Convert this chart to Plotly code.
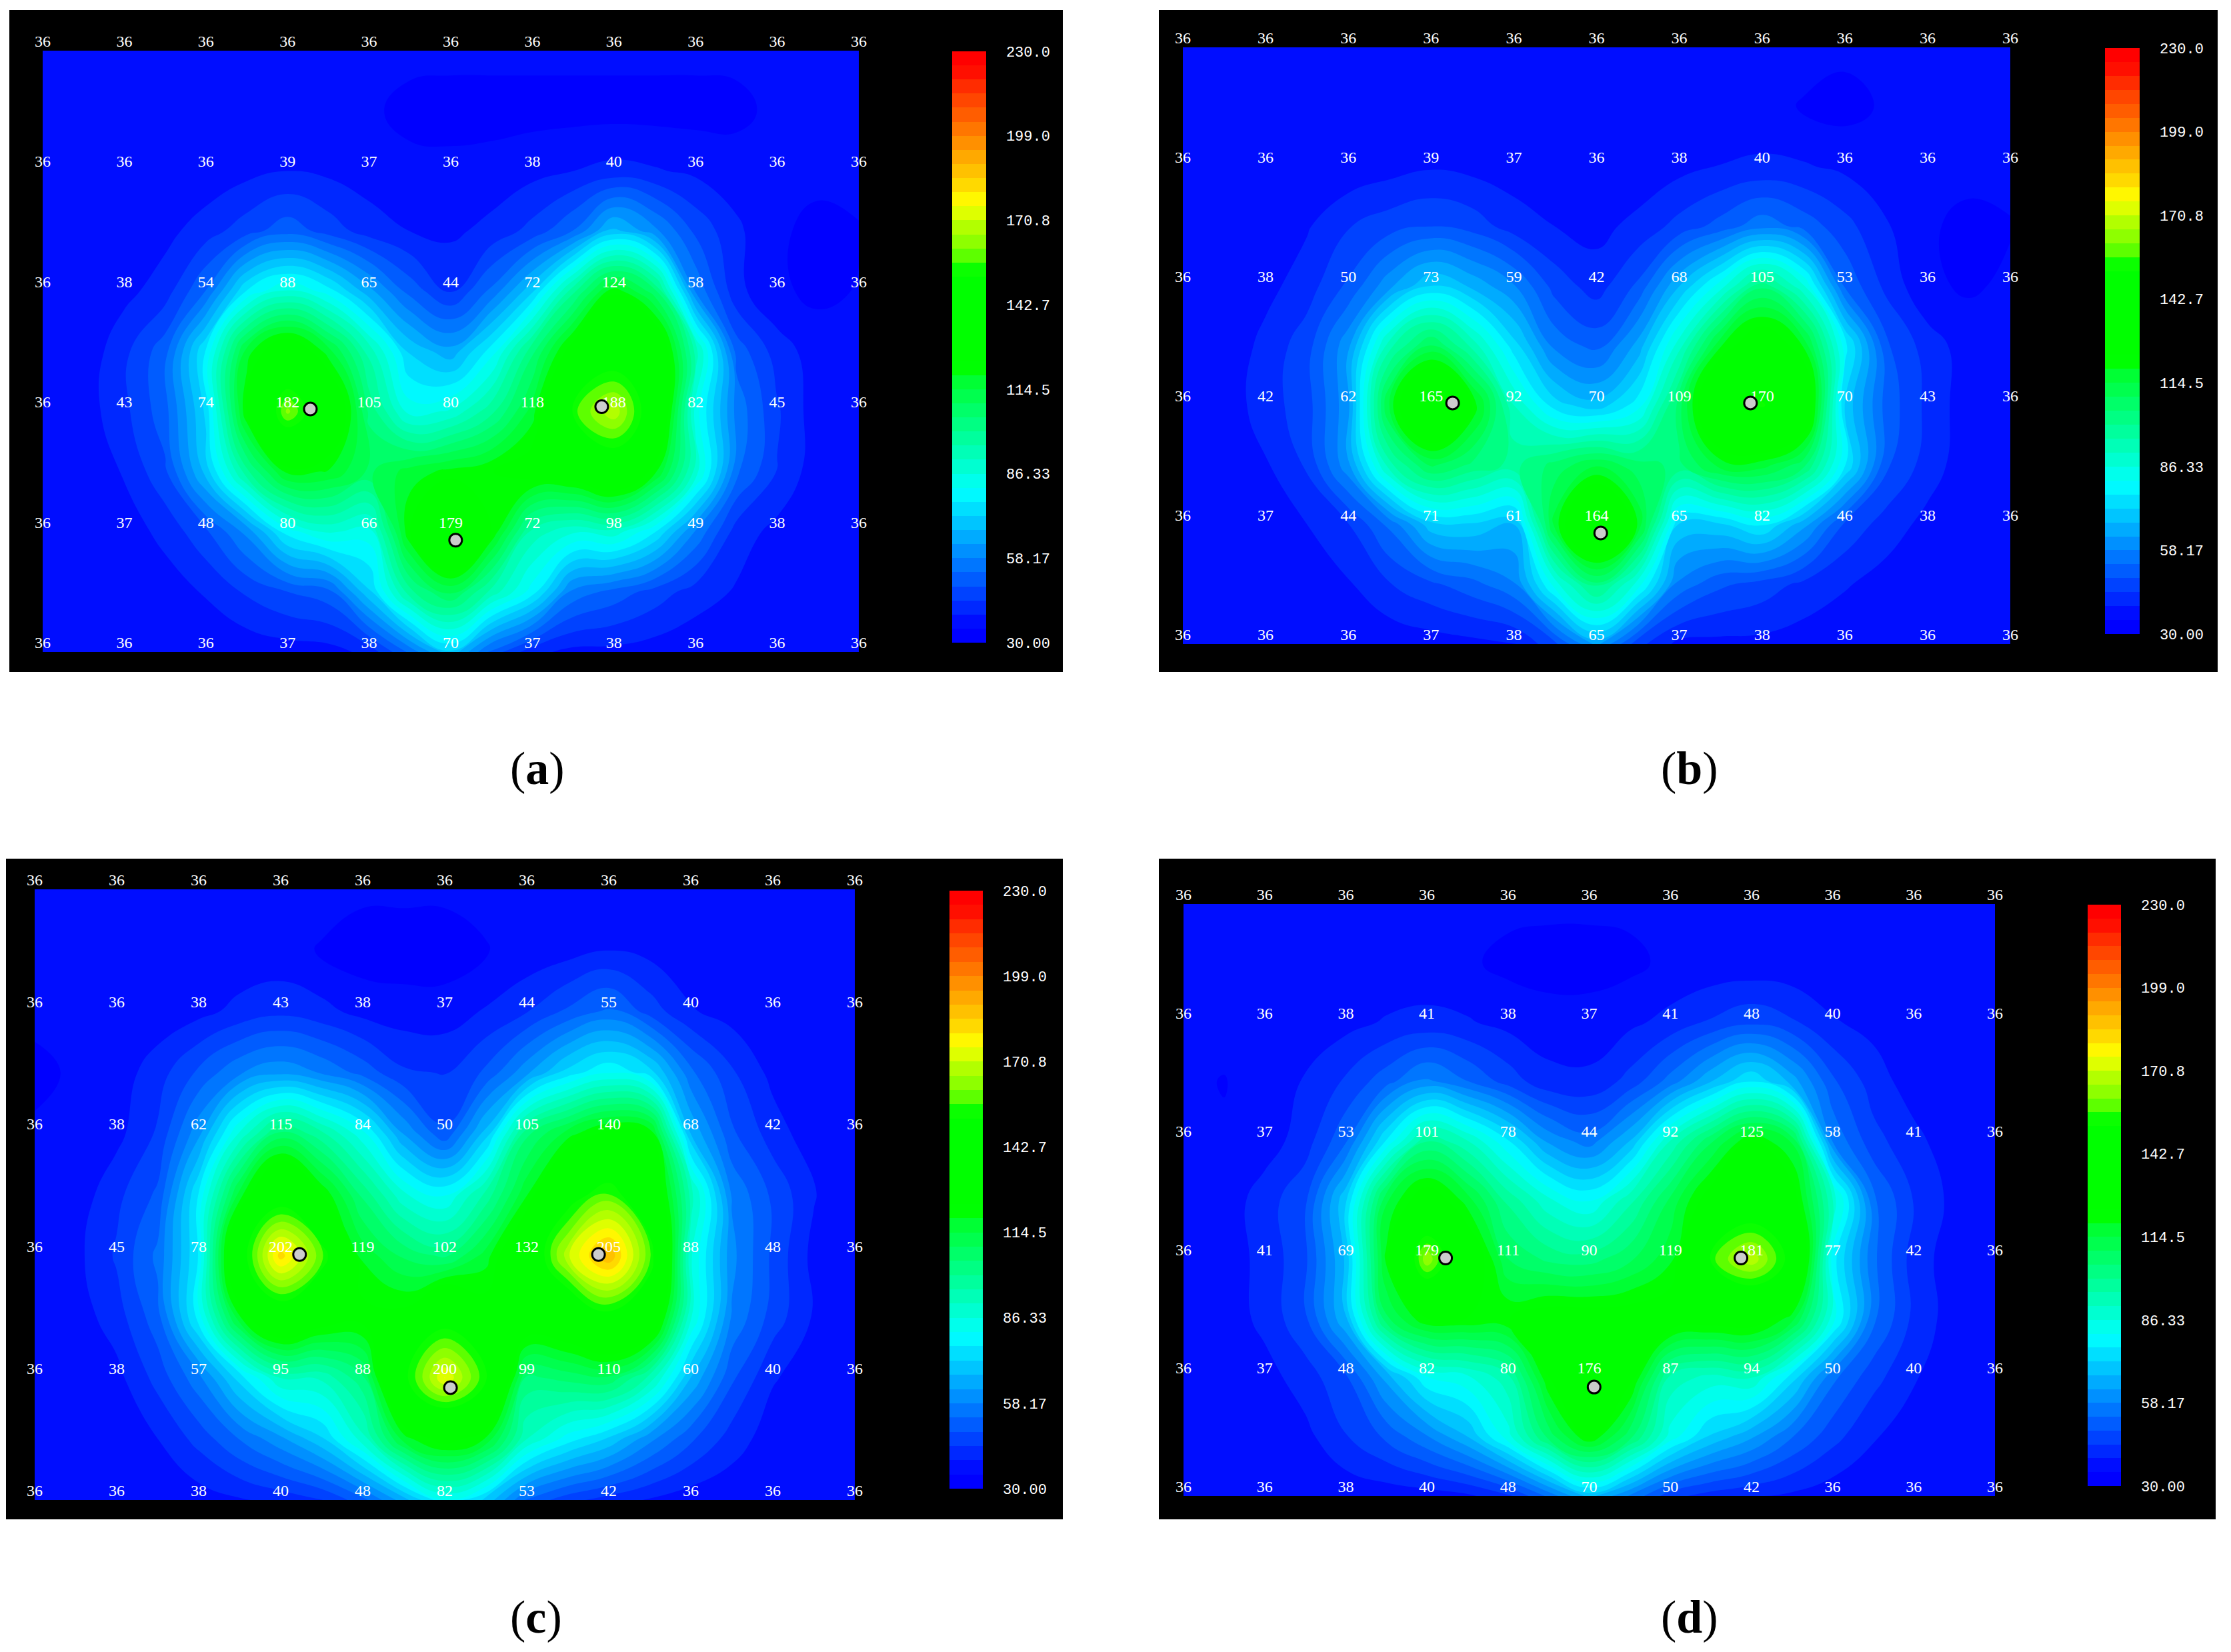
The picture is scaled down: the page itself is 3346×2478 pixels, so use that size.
#!/usr/bin/env python
import plotly.graph_objects as go

W = 3346
H = 2478

# printed temperatures, rows top to bottom
labels_a = [
    [36, 36, 36, 36, 36, 36, 36, 36, 36, 36, 36],
    [36, 36, 36, 39, 37, 36, 38, 40, 36, 36, 36],
    [36, 38, 54, 88, 65, 44, 72, 124, 58, 36, 36],
    [36, 43, 74, 182, 105, 80, 118, 188, 82, 45, 36],
    [36, 37, 48, 80, 66, 179, 72, 98, 49, 38, 36],
    [36, 36, 36, 37, 38, 70, 37, 38, 36, 36, 36],
]
labels_b = [
    [36, 36, 36, 36, 36, 36, 36, 36, 36, 36, 36],
    [36, 36, 36, 39, 37, 36, 38, 40, 36, 36, 36],
    [36, 38, 50, 73, 59, 42, 68, 105, 53, 36, 36],
    [36, 42, 62, 165, 92, 70, 109, 170, 70, 43, 36],
    [36, 37, 44, 71, 61, 164, 65, 82, 46, 38, 36],
    [36, 36, 36, 37, 38, 65, 37, 38, 36, 36, 36],
]
labels_c = [
    [36, 36, 36, 36, 36, 36, 36, 36, 36, 36, 36],
    [36, 36, 38, 43, 38, 37, 44, 55, 40, 36, 36],
    [36, 38, 62, 115, 84, 50, 105, 140, 68, 42, 36],
    [36, 45, 78, 202, 119, 102, 132, 205, 88, 48, 36],
    [36, 38, 57, 95, 88, 200, 99, 110, 60, 40, 36],
    [36, 36, 38, 40, 48, 82, 53, 42, 36, 36, 36],
]
labels_d = [
    [36, 36, 36, 36, 36, 36, 36, 36, 36, 36, 36],
    [36, 36, 38, 41, 38, 37, 41, 48, 40, 36, 36],
    [36, 37, 53, 101, 78, 44, 92, 125, 58, 41, 36],
    [36, 41, 69, 179, 111, 90, 119, 181, 77, 42, 36],
    [36, 37, 48, 82, 80, 176, 87, 94, 50, 40, 36],
    [36, 36, 38, 40, 48, 70, 50, 42, 36, 36, 36],
]

field_a = [
    [36] * 21,
    [36, 36, 36, 36, 36, 36, 36, 36, 35.5, 33.5, 33, 33, 33, 33, 33, 33, 33, 33.5, 36, 36, 36],
    [36, 36, 36, 36, 36, 38, 39.5, 38.5, 37, 36, 36, 36.5, 38, 39.5, 41, 40, 38.5, 37, 36, 36, 36],
    [36, 36, 36.5, 38, 42, 47, 52, 47, 42, 39.5, 38.5, 41, 46, 54, 70, 60, 48, 40.5, 35.5, 33.5, 34.5],
    [36, 36, 38, 42, 54, 78, 88, 80, 65, 52, 44, 55, 72, 100, 124, 108, 58, 41, 35.5, 33.8, 35],
    [36, 36, 43, 52, 78, 118, 135, 118, 95, 72, 65, 80, 105, 130, 145, 140, 95, 52, 42, 37, 36],
    [36, 37, 43, 52, 74, 125, 165, 140, 105, 85, 88, 100, 118, 157, 172, 145, 85, 57, 45, 36.5, 36],
    [36, 36, 40, 48, 70, 100, 122, 120, 110, 118, 122, 125, 130, 132, 142, 122, 90, 55, 44, 36.5, 36],
    [36, 36, 37, 41, 48, 60, 80, 88, 85, 125, 150, 125, 95, 88, 90, 78, 58, 42, 38, 36, 36],
    [36, 36, 36, 37, 40, 45, 49, 52, 72, 100, 112, 95, 80, 57, 52, 47, 42, 39, 36, 36, 36],
    [36, 36, 36, 36, 36, 36, 37, 37.5, 41, 55, 72, 52, 41, 38, 38, 37, 36, 36, 36, 36, 36],
]
field_b = [
    [36] * 21,
    [36, 36, 36, 36, 36, 36, 36, 36, 36, 36, 36, 36, 36, 36, 36, 34.5, 33, 35.5, 36, 36, 36],
    [36, 36, 36, 36, 36, 37.5, 39, 38, 37, 36, 36, 36, 38, 39.7, 40.5, 40, 38.5, 37, 36, 36, 36],
    [36, 36, 36, 39, 44, 47, 49, 47, 42, 39.5, 38, 41, 46, 51, 57, 52, 46, 40, 35.3, 33.7, 34.5],
    [36, 36, 38, 42, 50, 62, 73, 67, 59, 47, 42, 50, 68, 85, 105, 88, 53, 43, 35.5, 34.2, 35.5],
    [36, 36, 41, 47, 62, 95, 112, 95, 75, 57, 52, 65, 90, 120, 135, 120, 80, 50, 42, 37, 36],
    [36, 36.5, 42, 47, 62, 118, 148, 125, 92, 75, 70, 80, 109, 145, 155, 140, 72, 52, 43, 36.5, 36],
    [36, 36, 39, 45, 62, 95, 112, 105, 100, 108, 115, 108, 105, 118, 118, 108, 78, 50, 42, 36.5, 36],
    [36, 36, 36.5, 39.5, 44, 55, 71, 72, 68, 118, 148, 120, 72, 72, 78, 65, 48, 42, 38, 36.5, 36],
    [36, 36, 36, 36.5, 39, 44, 48, 52, 58, 85, 105, 85, 57, 50, 47, 43, 40, 37.5, 36, 36, 36],
    [36, 36, 36, 36, 36, 36, 37, 38, 39, 48, 65, 46, 38, 38, 38, 37, 36, 36, 36, 36, 36],
]
field_c = [
    [36] * 21,
    [36, 36, 36, 36, 36, 36, 36, 34.5, 32, 32, 32, 34.5, 36, 37.5, 39.5, 38, 36.5, 36, 36, 36, 36],
    [36, 36, 36, 36.5, 38, 41, 43, 41, 38, 37, 37, 40, 44, 50, 55, 47, 40, 37.5, 36, 36, 36],
    [33.5, 35.5, 37, 42, 50, 58, 62, 58, 52, 45, 44, 50, 62, 75, 82, 75, 55, 45, 38, 36, 35],
    [35.5, 36.5, 38, 45, 62, 88, 108, 98, 84, 63, 50, 70, 105, 118, 128, 125, 68, 50, 42, 36.5, 36],
    [36, 36.5, 43, 50, 78, 118, 146, 125, 105, 88, 82, 98, 120, 148, 160, 140, 95, 58, 48, 40, 36],
    [36, 38, 45, 55, 78, 147, 185, 160, 119, 110, 105, 118, 140, 172, 192, 160, 88, 60, 48, 38, 36],
    [36, 37, 42, 52, 80, 120, 143, 132, 128, 128, 148, 130, 135, 138, 150, 140, 88, 58, 47, 39, 36],
    [36, 36.5, 38, 46, 57, 75, 92, 93, 105, 151, 178, 155, 105, 108, 110, 95, 68, 50, 40, 37, 36],
    [36, 36, 36.5, 39.5, 46, 54, 62, 72, 90, 118, 129, 120, 92, 80, 72, 60, 50, 42, 37, 36, 36],
    [36, 36, 36, 36, 37, 39, 41, 44, 52, 66, 82, 72, 53, 46, 42, 39, 36.5, 36, 36, 36, 36],
]
field_d = [
    [36] * 21,
    [36, 36, 36, 36, 36, 36, 36, 35.5, 33.5, 32.5, 32.5, 33.5, 36, 36, 36, 36, 36, 36, 36, 36, 36],
    [36, 36, 36, 36.5, 38, 40, 41, 40, 38, 37, 37, 38.5, 41, 45, 48, 45, 40, 38, 36, 36, 36],
    [35.5, 34.6, 36.5, 40, 45, 52, 60, 54, 47, 41, 40.5, 46, 56, 68, 78, 66, 50, 42, 37, 36, 36],
    [36, 35.2, 37, 42, 53, 78, 101, 92, 78, 62, 56, 68, 92, 110, 125, 115, 58, 46, 41, 36.5, 36],
    [36, 36.5, 42, 48, 72, 115, 132, 118, 100, 88, 82, 95, 112, 130, 142, 130, 92, 55, 44, 38, 36],
    [36, 37, 41, 48, 69, 122, 168, 135, 111, 105, 104, 110, 119, 157, 172, 150, 80, 55, 42, 37, 36],
    [35.5, 36.5, 41, 48, 68, 110, 125, 125, 125, 130, 130, 130, 132, 130, 131, 118, 85, 55, 43, 37, 36],
    [36, 36.5, 37.5, 42, 48, 65, 82, 86, 95, 125, 148, 128, 95, 90, 92, 75, 55, 46, 40, 36.5, 36],
    [36, 36, 36, 38, 44, 50, 58, 68, 85, 108, 125, 108, 85, 72, 64, 54, 46, 40, 36.5, 36, 36],
    [36, 36, 36, 36, 36, 36.5, 37, 38.5, 43, 55, 70, 58, 46, 42, 40, 38.5, 36.5, 36, 36, 36, 36],
]

# sensor dots in grid units (column, row)
sensors_a = [(3.28, 2.98), (6.85, 2.96), (5.06, 4.07)]
sensors_b = [(3.26, 2.98), (6.86, 2.98), (5.05, 4.07)]
sensors_c = [(3.23, 2.99), (6.875, 2.99), (5.07, 4.08)]
sensors_d = [(3.23, 2.99), (6.87, 2.99), (5.06, 4.08)]

cbar_tickvals = [30 + i * 200 / 7 for i in range(8)]
cbar_ticktext = ["30.00", "58.17", "86.33", "114.5", "142.7", "170.8", "199.0", "230.0"]

# 42 bands of the legend, bottom to top
band_colors = [
    "#0000ff", "#0019ff", "#0033ff", "#004cff", "#0066ff", "#0080ff", "#0099ff", "#00b3ff", "#00ccff", "#00e6ff",
    "#00ffff", "#00ffe6", "#00ffcc", "#00ffb3", "#00ff99", "#00ff80", "#00ff66", "#00ff4c", "#00ff33",
    "#00ff00", "#00ff00", "#00ff00", "#00ff00", "#00ff00", "#00ff00", "#00ff00", "#00ff00",
    "#55ff00", "#88ff00", "#aaff00", "#d4ff00", "#ffff00",
    "#ffe000", "#ffc800", "#ffb000", "#ff9900", "#ff8000", "#ff6600", "#ff5000", "#ff3800", "#ff1c00", "#ff0000",
]
n = len(band_colors)
scale = [[0, band_colors[0]]]
for k, c in enumerate(band_colors):
    scale.append([(k + 1) / (n + 1), c])
scale.append([1, band_colors[-1]])

# frame, plot area, colorbar (x0, x1, y0, y1), all in pixels from the top left corner
panels = [
    dict(name="a", labels=labels_a, field=field_a, sensors=sensors_a, frame=(14, 1594, 15, 1008), plot=(64, 1288, 76, 978),
         bar=(1428, 1479, 77, 964), cap=(806, 1152)),
    dict(name="b", labels=labels_b, field=field_b, sensors=sensors_b, frame=(1738, 3326, 15, 1008), plot=(1774, 3015, 71, 966),
         bar=(3157, 3209, 72, 951), cap=(2534, 1152)),
    dict(name="c", labels=labels_c, field=field_c, sensors=sensors_c, frame=(9, 1594, 1288, 2279), plot=(52, 1282, 1334, 2250),
         bar=(1424, 1474, 1336, 2233), cap=(804, 2425)),
    dict(name="d", labels=labels_d, field=field_d, sensors=sensors_d, frame=(1738, 3323, 1288, 2279), plot=(1775, 2992, 1356, 2244),
         bar=(3131, 3181, 1357, 2229), cap=(2534, 2425)),
]

fig = go.Figure()
shapes = []
annotations = []
layout_axes = {}

for i, p in enumerate(panels):
    suffix = "" if i == 0 else str(i + 1)
    xname = "x" + suffix
    yname = "y" + suffix
    x0, x1, y0, y1 = p["plot"]
    layout_axes["xaxis" + suffix] = dict(domain=[x0 / W, x1 / W], range=[0, 10], visible=False, anchor=yname)
    layout_axes["yaxis" + suffix] = dict(domain=[1 - y1 / H, 1 - y0 / H], range=[5, 0], visible=False, anchor=xname)

    fx0, fx1, fy0, fy1 = p["frame"]
    shapes.append(dict(type="rect", xref="paper", yref="paper", x0=fx0 / W, x1=fx1 / W, y0=1 - fy1 / H, y1=1 - fy0 / H,
                       fillcolor="black", line_width=0, layer="below"))

    bx0, bx1, by0, by1 = p["bar"]
    fig.add_trace(go.Contour(
        z=p["field"], x=[k / 2 for k in range(21)], y=[j / 2 for j in range(11)], xaxis=xname, yaxis=yname,
        colorscale=scale, zmin=30, zmax=230, autocontour=False,
        contours=dict(start=30, end=230, size=200 / 42, coloring="fill", showlines=False),
        line=dict(width=0, smoothing=1.3), hoverinfo="skip",
        colorbar=dict(x=bx0 / W, xanchor="left", y=1 - by0 / H, yanchor="top", len=(by1 - by0) / H, thickness=bx1 - bx0,
                      xpad=0, ypad=0, outlinewidth=0, ticks="outside", ticklen=26, tickcolor="black",
                      tickvals=cbar_tickvals, ticktext=cbar_ticktext,
                      tickfont=dict(family="Liberation Mono", size=22, color="white")),
    ))

    xs = [c for r in range(6) for c in range(11)]
    ys = [r for r in range(6) for c in range(11)]
    txt = [str(p["labels"][r][c]) for r in range(6) for c in range(11)]
    fig.add_trace(go.Scatter(x=xs, y=ys, mode="text", text=txt, textposition="top center", xaxis=xname, yaxis=yname,
                             textfont=dict(family="Liberation Serif", size=24, color="white"), cliponaxis=False,
                             showlegend=False, hoverinfo="skip"))
    fig.add_trace(go.Scatter(x=[s[0] for s in p["sensors"]], y=[s[1] for s in p["sensors"]], mode="markers",
                             xaxis=xname, yaxis=yname, cliponaxis=False, showlegend=False, hoverinfo="skip",
                             marker=dict(size=19, color="#cccccc", line=dict(color="black", width=3))))

    cx, cy = p["cap"]
    annotations.append(dict(text=f"(<b>{p['name']}</b>)", x=cx / W, y=1 - cy / H, xref="paper", yref="paper",
                            xanchor="center", yanchor="middle", showarrow=False,
                            font=dict(family="Liberation Serif", size=70, color="black")))

fig.update_layout(width=W, height=H, margin=dict(l=0, r=0, t=0, b=0), paper_bgcolor="white", plot_bgcolor="white",
                  shapes=shapes, annotations=annotations, showlegend=False, **layout_axes)

fig.write_html("out.html", config={"displayModeBar": False}, post_script="document.body.style.margin='0';")
